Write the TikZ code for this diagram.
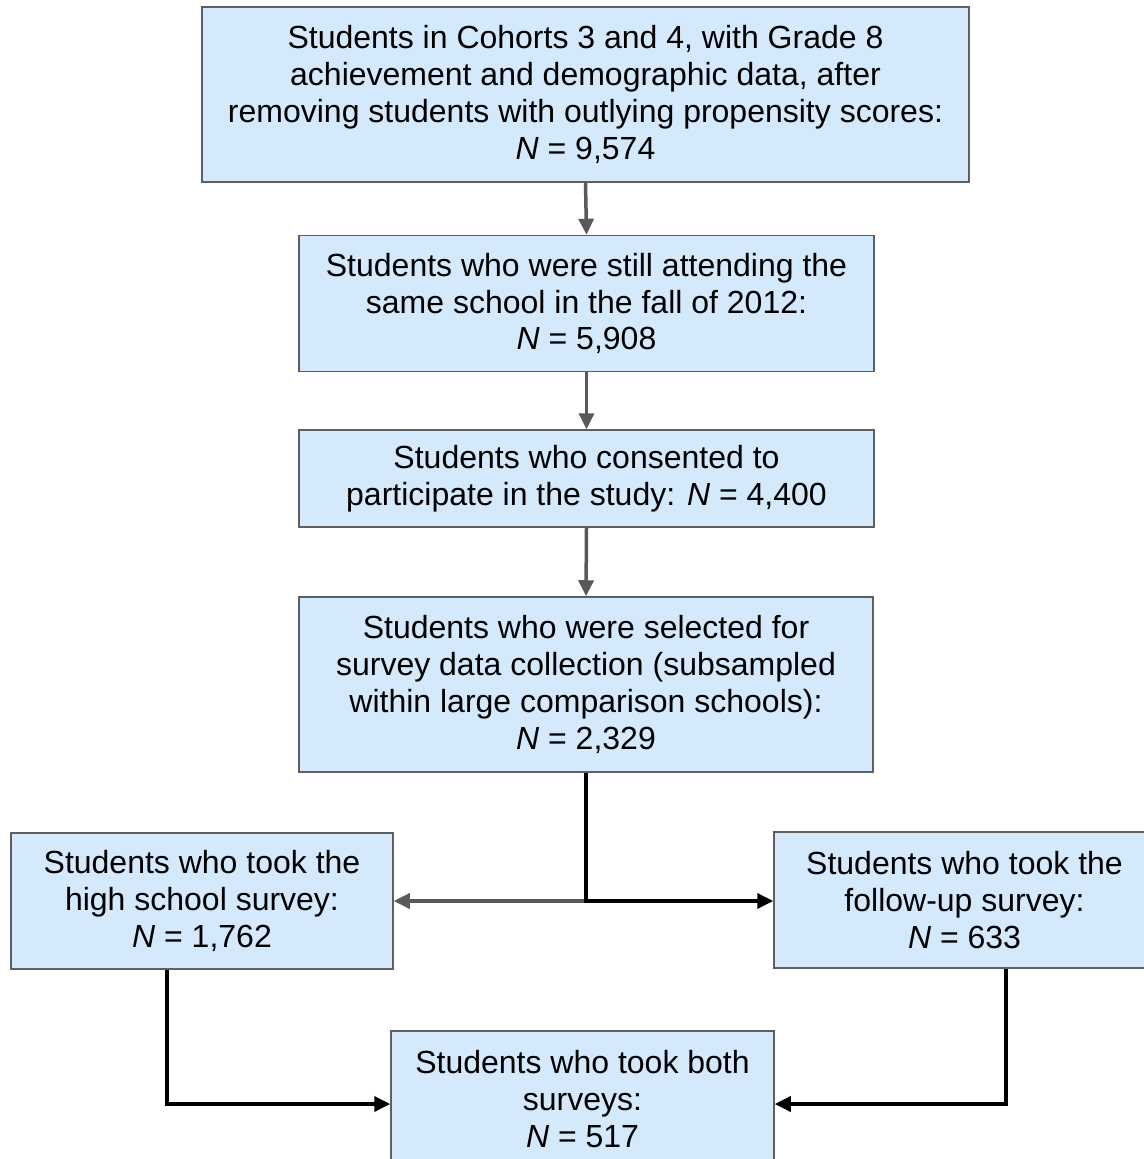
\documentclass[tikz,border=0pt]{standalone}
\usepackage{fontspec}
\setmainfont{Liberation Sans}
\usetikzlibrary{arrows.meta}
\definecolor{boxfill}{HTML}{D4E9FC}
\definecolor{boxline}{HTML}{5F5F5F}
\definecolor{arrgray}{HTML}{595959}
\begin{document}
\begin{tikzpicture}[x=1pt,y=-1pt,
  flowbox/.style={draw=boxline, line width=1.5pt, fill=boxfill, inner sep=0pt,
    align=center, font=\fontsize{32}{36.8}\selectfont},
  conn/.style={line width=3.5pt, -{Triangle[length=16pt,width=15pt]}}]
\useasboundingbox (0,0) rectangle (1143,1159);
\fill[white] (0,0) rectangle (1143,1159);
\node[flowbox, minimum width=767pt, minimum height=175pt] (b1) at (585.5,94.5)
  {Students in Cohorts 3 and 4, with Grade 8\\ achievement and demographic data, after\\ removing students with outlying propensity scores:\\ \textit{N} = 9,574};
\node[flowbox, minimum width=575pt, minimum height=136pt] (b2) at (586.5,303.5)
  {Students who were still attending the\\ same school in the fall of 2012:\\ \textit{N} = 5,908};
\node[flowbox, minimum width=575pt, minimum height=97pt] (b3) at (586.5,478.5)
  {Students who consented to\\ participate in the study: \textit{N} = 4,400};
\node[flowbox, minimum width=574pt, minimum height=175pt] (b4) at (586,684.5)
  {Students who were selected for\\ survey data collection (subsampled\\ within large comparison schools):\\ \textit{N} = 2,329};
\node[flowbox, minimum width=382pt, minimum height=136pt] (b5) at (202,901)
  {Students who took the\\ high school survey:\\ \textit{N} = 1,762};
\node[flowbox, minimum width=381pt, minimum height=136pt] (b6) at (964.5,900)
  {Students who took the\\ follow-up survey:\\ \textit{N} = 633};
\node[flowbox, minimum width=383pt, minimum height=136pt] (b7) at (582.5,1099)
  {Students who took both\\ surveys:\\ \textit{N} = 517};
\draw[conn, arrgray] (b1.south) -- (b2.north);
\draw[conn, arrgray] (b2.south) -- (b3.north);
\draw[conn, arrgray] (b3.south) -- (b4.north);
\draw[conn, arrgray] (b4.south) |- (b5.east);
\draw[conn, black] (b4.south) |- ([yshift=-1pt]b6.west);
\draw[conn, black] ([xshift=-35pt]b5.south) |- ([yshift=-5pt]b7.west);
\draw[conn, black] ([xshift=41.5pt]b6.south) |- ([yshift=-5pt]b7.east);
\end{tikzpicture}
\end{document}
